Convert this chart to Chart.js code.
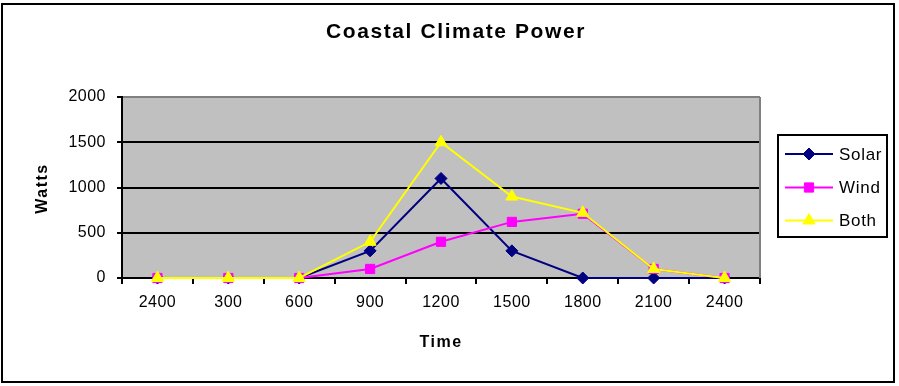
<!DOCTYPE html>
<html><head><meta charset="utf-8">
<script src="https://cdn.jsdelivr.net/npm/chart.js@4/dist/chart.umd.min.js"></script>
<style>html,body{margin:0;padding:0;background:#fff;overflow:hidden}#wrap{width:899px;height:386px;position:relative}</style>
</head><body><div id="wrap"><canvas id="c" width="899" height="386"></canvas></div>
<script>
const categories = ['2400', '300', '600', '900', '1200', '1500', '1800', '2100', '2400'];
const solar = [0, 0, 0, 300, 1100, 300, 0, 0, 0];
const wind = [0, 0, 0, 100, 400, 620, 710, 100, 0];
const both = [0, 0, 0, 400, 1500, 900, 720, 100, 0];
const seriesNames = ['Solar', 'Wind', 'Both'];
const yMin = 0, yMax = 2000, yStep = 500;
const titleText = 'Coastal Climate Power';
const xTitleText = 'Time';
const yTitleText = 'Watts';

const FONT = 'Arial, "Liberation Sans", sans-serif';

function spaced(ctx, px) { ctx.letterSpacing = px; }

const decor = {
  id: 'decor',
  beforeUpdate(chart) { spaced(chart.ctx, '0.5px'); },
  beforeDraw(chart) {
    const ctx = chart.ctx, a = chart.chartArea;
    spaced(ctx, '0.5px');
    ctx.save();
    ctx.fillStyle = '#fff';
    ctx.fillRect(0, 0, chart.width, chart.height);
    ctx.fillStyle = '#C0C0C0';
    ctx.fillRect(a.left, a.top, a.right - a.left, a.bottom - a.top);
    ctx.restore();
  },
  beforeDatasetsDraw(chart) {
    const ctx = chart.ctx, a = chart.chartArea;
    ctx.save();
    ctx.strokeStyle = '#808080';
    ctx.lineWidth = 2;
    ctx.beginPath();
    ctx.moveTo(a.right, a.top);
    ctx.lineTo(a.right, a.bottom);
    ctx.stroke();
    ctx.restore();
  },
  afterDraw(chart) {
    const ctx = chart.ctx, a = chart.chartArea;
    ctx.save();
    ctx.strokeStyle = '#000';
    ctx.lineWidth = 2;
    ctx.strokeRect(2, 4, 892, 378);
    ctx.fillStyle = '#000';
    ctx.textAlign = 'center';
    ctx.textBaseline = 'middle';
    ctx.letterSpacing = '1.6px';
    ctx.font = 'bold 21px ' + FONT;
    ctx.fillText(titleText, 456, 32);
    ctx.letterSpacing = '1.5px';
    ctx.font = 'bold 16px ' + FONT;
    ctx.fillText(xTitleText, 441, 343);
    ctx.save();
    ctx.translate(43, (a.top + a.bottom) / 2 + 1);
    ctx.rotate(-Math.PI / 2);
    ctx.fillText(yTitleText, 0, 0);
    ctx.restore();
    ctx.letterSpacing = '0.7px';
    ctx.lineWidth = 2;
    ctx.strokeStyle = '#000';
    ctx.strokeRect(778, 135, 109, 102);
    const rows = [154, 187.5, 220.5];
    chart.data.datasets.forEach((ds, i) => {
      const y = rows[i];
      ctx.strokeStyle = ds.borderColor;
      ctx.lineWidth = 2;
      ctx.beginPath();
      ctx.moveTo(785, y);
      ctx.lineTo(833, y);
      ctx.stroke();
      ctx.fillStyle = ds.backgroundColor;
      ctx.lineWidth = 1;
      Chart.helpers.drawPoint(ctx, {pointStyle: ds.pointStyle, radius: ds.pointRadius, rotation: 0, borderWidth: 1}, 809, y);
      ctx.fillStyle = '#000';
      ctx.textAlign = 'left';
      ctx.textBaseline = 'middle';
      ctx.font = '17px ' + FONT;
      ctx.fillText(ds.label, 839, y + 1);
    });
    ctx.restore();
  }
};

const chart = new Chart(document.getElementById('c'), {
  type: 'line',
  data: {
    labels: categories,
    datasets: [
      {label: seriesNames[0], data: solar, borderColor: '#000080', backgroundColor: '#000080',
       pointStyle: 'rectRot', pointRadius: 6, pointBorderWidth: 1, borderWidth: 2, order: 2},
      {label: seriesNames[1], data: wind, borderColor: '#FF00FF', backgroundColor: '#FF00FF',
       pointStyle: 'rect', pointRadius: 6.5, pointBorderWidth: 1, borderWidth: 2, order: 1},
      {label: seriesNames[2], data: both, borderColor: '#FFFF00', backgroundColor: '#FFFF00',
       pointStyle: 'triangle', pointRadius: 7, pointBorderWidth: 1, borderWidth: 2, order: 0}
    ]
  },
  options: {
    responsive: false,
    devicePixelRatio: 1,
    animation: false,
    events: [],
    clip: false,
    elements: {line: {tension: 0}},
    layout: {padding: {top: 97, right: 139, left: 0, bottom: 0}},
    plugins: {legend: {display: false}, title: {display: false}, tooltip: {enabled: false}},
    scales: {
      x: {
        offset: true,
        grid: {drawOnChartArea: false, offset: true, tickLength: 6, tickColor: '#000', lineWidth: 2, color: '#000'},
        border: {display: true, color: '#000', width: 2},
        ticks: {color: '#000', font: {family: FONT, size: 16}, padding: 9, maxRotation: 0, autoSkip: false},
        afterFit(s) { s.height = 108; }
      },
      y: {
        min: yMin, max: yMax,
        grid: {color: c => (c.tick && c.tick.value === yMax) ? '#808080' : '#000', tickColor: '#000', lineWidth: 2, tickLength: 5},
        border: {display: true, color: '#000', width: 2},
        ticks: {stepSize: yStep, color: '#000', font: {family: FONT, size: 16}, padding: 11, callback: v => String(v)},
        afterFit(s) { s.width = 122; }
      }
    }
  },
  plugins: [decor]
});
</script>
</body></html>
